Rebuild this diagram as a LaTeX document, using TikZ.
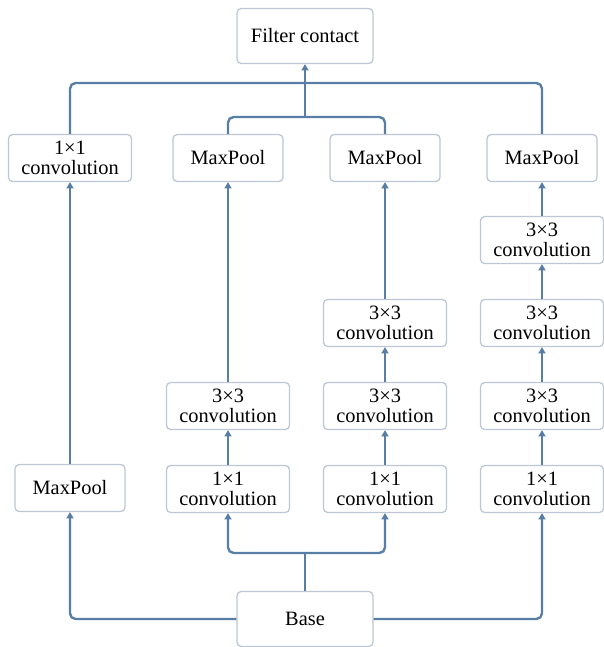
\documentclass[tikz,border=0pt]{standalone}
\usepackage{fontspec}
\setmainfont{Liberation Serif}
\usepackage{tikz}
\usetikzlibrary{positioning, calc, arrows.meta}
\definecolor{wire color}{RGB}{88,126,166}
\definecolor{frame color}{RGB}{188,198,212}
\tikzset{wire/.style={line width=1.7pt, draw=wire color}}
\tikzset{tip/.style={-{Triangle[width=5pt,length=4.5pt]}}}
\tikzset{layer/.style={draw=frame color, line width=0.9pt, fill=white, rounded corners=3pt, align=center, inner sep=0pt, minimum width=123*0.025cm, minimum height=47*0.025cm, font=\fontsize{14.5}{14}\selectfont}}
\tikzset{pool/.style={layer, minimum width=110*0.025cm}}
\tikzset{terminal/.style={layer, minimum width=136*0.025cm, minimum height=55*0.025cm}}

\begin{document}
\begin{tikzpicture}[x=0.025cm, y=-0.025cm]
                \useasboundingbox (0, 0) rectangle (604, 647);
                % end points
                \node[terminal] (filter) at (305, 36) {Filter contact};
                \node[terminal] (base) at (305, 619) {Base};
                % first branch
                \node[pool] (mp1) at (70, 488) {MaxPool};
                \node[layer] (cv1) at (70, 158) {1×1\\convolution};
                % second branch
                \node[layer] (a2) at (228, 489) {1×1\\convolution};
                \node[layer] (b2) at (228, 406) {3×3\\convolution};
                \node[pool] (mp2) at (228, 158) {MaxPool};
                % third branch
                \node[layer] (a3) at (385, 489) {1×1\\convolution};
                \node[layer] (b3) at (385, 406) {3×3\\convolution};
                \node[layer] (c3) at (385, 323) {3×3\\convolution};
                \node[pool] (mp3) at (385, 158) {MaxPool};
                % fourth branch
                \node[layer] (a4) at (542, 489) {1×1\\convolution};
                \node[layer] (b4) at (542, 406) {3×3\\convolution};
                \node[layer] (c4) at (542, 323) {3×3\\convolution};
                \node[layer] (d4) at (542, 240) {3×3\\convolution};
                \node[pool] (mp4) at (542, 158) {MaxPool};
                % junctions
                \coordinate (topjoin) at (305, 83);
                \coordinate (midjoin) at (305, 117);
                \coordinate (lowjoin) at (305, 553);
                % from the base
                \draw[wire] (base.north) -- (lowjoin);
                \draw[wire, tip, rounded corners=4pt] (lowjoin) -| (a2.south);
                \draw[wire, tip, rounded corners=4pt] (lowjoin) -| (a3.south);
                \draw[wire, tip, rounded corners=4pt] (base.west) -| (mp1.south);
                \draw[wire, tip, rounded corners=4pt] (base.east) -| (a4.south);
                % up the branches
                \draw[wire, tip] (mp1) -- (cv1);
                \draw[wire, tip] (a2) -- (b2);
                \draw[wire, tip] (b2) -- (mp2);
                \draw[wire, tip] (a3) -- (b3);
                \draw[wire, tip] (b3) -- (c3);
                \draw[wire, tip] (c3) -- (mp3);
                \draw[wire, tip] (a4) -- (b4);
                \draw[wire, tip] (b4) -- (c4);
                \draw[wire, tip] (c4) -- (d4);
                \draw[wire, tip] (d4) -- (mp4);
                % into the filter
                \draw[wire, rounded corners=4pt] (cv1.north) |- (topjoin);
                \draw[wire, rounded corners=4pt] (mp4.north) |- (topjoin);
                \draw[wire, rounded corners=4pt] (mp2.north) |- (midjoin);
                \draw[wire, rounded corners=4pt] (mp3.north) |- (midjoin);
                \draw[wire, tip] (midjoin) -- (filter);
            \end{tikzpicture}
\end{document}
